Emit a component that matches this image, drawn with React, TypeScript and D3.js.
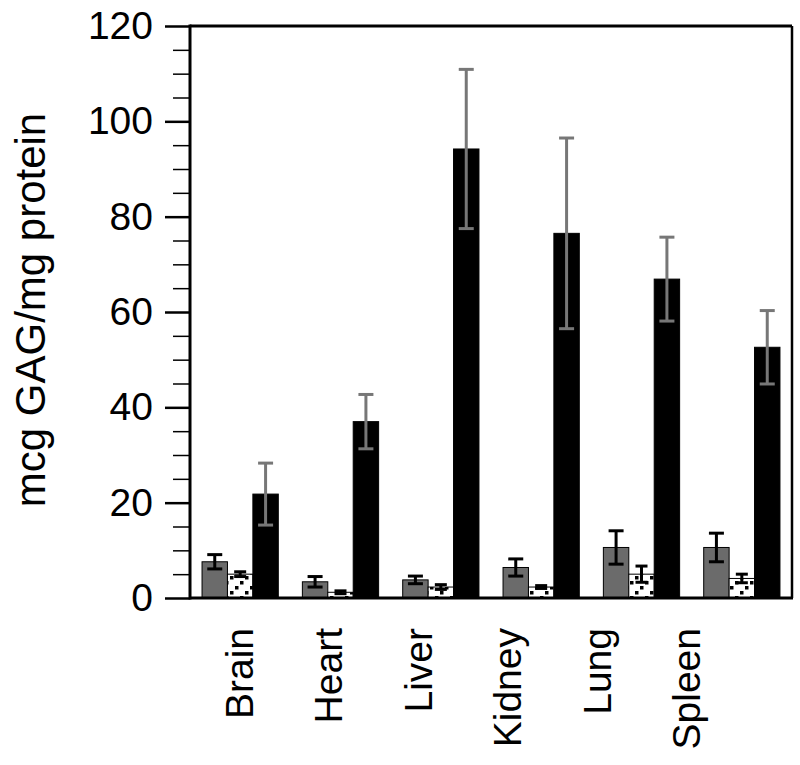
import React, { useEffect, useRef } from 'react';
import * as d3 from 'd3';

const categories = ['Brain', 'Heart', 'Liver', 'Kidney', 'Lung', 'Spleen'];
const seriesKeys = ['grey', 'hatched', 'black'];

// means and errors, mcg GAG/mg protein
const greyValues = [7.6, 3.4, 3.8, 6.4, 10.6, 10.6];
const greyErrors = [1.5, 1.1, 0.8, 1.8, 3.5, 3.0];
const hatchedValues = [5.0, 1.2, 2.3, 2.3, 5.0, 4.1];
const hatchedErrors = [0.5, 0.3, 0.5, 0.3, 1.7, 0.9];
const blackValues = [21.8, 37.0, 94.2, 76.5, 66.9, 52.6];
const blackErrors = [6.5, 5.7, 16.7, 20.0, 8.8, 7.7];

const majorTicks = [0, 20, 40, 60, 80, 100, 120];

const App = () => {
  const svgRef = useRef<SVGSVGElement>(null);

  useEffect(() => {
    const svg = d3.select(svgRef.current);
    svg.selectAll('*').remove();

    const width = 800;
    const height = 765;
    const left = 190, right = 792, top = 26, bottom = 598;
    const font = 'Liberation Sans, Arial, Helvetica, sans-serif';

    svg.attr('width', width).attr('height', height);

    // hatch pattern: sparse diagonal run of small squares
    const defs = svg.append('defs');
    const pat = defs.append('pattern')
      .attr('id', 'hatch')
      .attr('patternUnits', 'userSpaceOnUse')
      .attr('width', 15)
      .attr('height', 15);
    pat.append('rect').attr('width', 15).attr('height', 15).attr('fill', '#fff');
    [[0, 11], [5, 6], [10, 1]].forEach(([px, py]) => {
      pat.append('rect')
        .attr('x', px).attr('y', py)
        .attr('width', 3.5).attr('height', 3.5)
        .attr('fill', '#000');
    });

    const x = d3.scaleBand()
      .domain(categories)
      .range([left, right])
      .paddingInner(0.24)
      .paddingOuter(0.12);

    const xSub = d3.scaleBand()
      .domain(seriesKeys)
      .range([0, x.bandwidth()]);

    const y = d3.scaleLinear().domain([0, 120]).range([bottom, top]);

    const series = [
      { key: 'grey', values: greyValues, errors: greyErrors, fill: '#6b6b6b', stroke: '#000', errColor: '#000', cap: 15 },
      { key: 'hatched', values: hatchedValues, errors: hatchedErrors, fill: 'url(#hatch)', stroke: '#000', errColor: '#000', cap: 12 },
      { key: 'black', values: blackValues, errors: blackErrors, fill: '#000', stroke: '#000', errColor: '#777', cap: 15 },
    ];

    // bars
    series.forEach(s => {
      const g = svg.append('g');
      categories.forEach((c, i) => {
        const x0 = (x(c) as number) + (xSub(s.key) as number);
        g.append('rect')
          .attr('x', x0)
          .attr('y', y(s.values[i]))
          .attr('width', xSub.bandwidth())
          .attr('height', y(0) - y(s.values[i]))
          .attr('fill', s.fill)
          .attr('stroke', s.stroke)
          .attr('stroke-width', 1);
      });
    });

    // error bars
    series.forEach(s => {
      const g = svg.append('g')
        .attr('stroke', s.errColor)
        .attr('stroke-width', 3);
      categories.forEach((c, i) => {
        const cx = (x(c) as number) + (xSub(s.key) as number) + xSub.bandwidth() / 2;
        const hi = y(s.values[i] + s.errors[i]);
        const lo = y(s.values[i] - s.errors[i]);
        g.append('line').attr('x1', cx).attr('x2', cx).attr('y1', hi).attr('y2', lo);
        g.append('line').attr('x1', cx - s.cap / 2).attr('x2', cx + s.cap / 2).attr('y1', hi).attr('y2', hi);
        g.append('line').attr('x1', cx - s.cap / 2).attr('x2', cx + s.cap / 2).attr('y1', lo).attr('y2', lo);
      });
    });

    // minor ticks
    const minorAxis = d3.axisLeft(y)
      .tickValues(d3.range(0, 121, 5).filter(v => v % 20 !== 0))
      .tickSize(17)
      .tickSizeOuter(0)
      .tickFormat(() => '');
    const gMinor = svg.append('g').attr('transform', `translate(${left},0)`).call(minorAxis);
    gMinor.select('.domain').remove();
    gMinor.selectAll('line').attr('stroke', '#000').attr('stroke-width', 1.5);

    // major ticks + labels
    const majorAxis = d3.axisLeft(y)
      .tickValues(majorTicks)
      .tickSize(25)
      .tickSizeOuter(0)
      .tickPadding(12);
    const gMajor = svg.append('g').attr('transform', `translate(${left},0)`).call(majorAxis);
    gMajor.select('.domain').remove();
    gMajor.selectAll('line').attr('stroke', '#000').attr('stroke-width', 2.5);
    gMajor.selectAll('text')
      .attr('font-family', font)
      .attr('font-size', 39)
      .attr('fill', '#000');

    // frame
    svg.append('line').attr('x1', left).attr('x2', left).attr('y1', top - 1.5).attr('y2', bottom + 1.5)
      .attr('stroke', '#000').attr('stroke-width', 3);
    svg.append('line').attr('x1', left).attr('x2', right).attr('y1', top).attr('y2', top)
      .attr('stroke', '#000').attr('stroke-width', 3);
    svg.append('line').attr('x1', left).attr('x2', right + 1).attr('y1', bottom).attr('y2', bottom)
      .attr('stroke', '#000').attr('stroke-width', 3);
    svg.append('line').attr('x1', right).attr('x2', right).attr('y1', top).attr('y2', bottom)
      .attr('stroke', '#000').attr('stroke-width', 2.5);

    // category labels
    const xLabel = d3.scalePoint().domain(categories).range([253, 700]);
    svg.append('g')
      .selectAll('text')
      .data(categories)
      .enter()
      .append('text')
      .attr('transform', d => `translate(${xLabel(d)},628) rotate(-90)`)
      .attr('text-anchor', 'end')
      .attr('font-family', font)
      .attr('font-size', 39)
      .attr('fill', '#000')
      .text(d => d);

    // y title
    svg.append('text')
      .attr('transform', `translate(45,310) rotate(-90)`)
      .attr('text-anchor', 'middle')
      .attr('font-family', font)
      .attr('font-size', 42)
      .attr('fill', '#000')
      .text('mcg GAG/mg protein');
  }, []);

  return (
    <div style={{ position: 'absolute', left: 0, top: 0, background: '#fff' }}>
      <svg ref={svgRef}></svg>
    </div>
  );
};

export default App;
